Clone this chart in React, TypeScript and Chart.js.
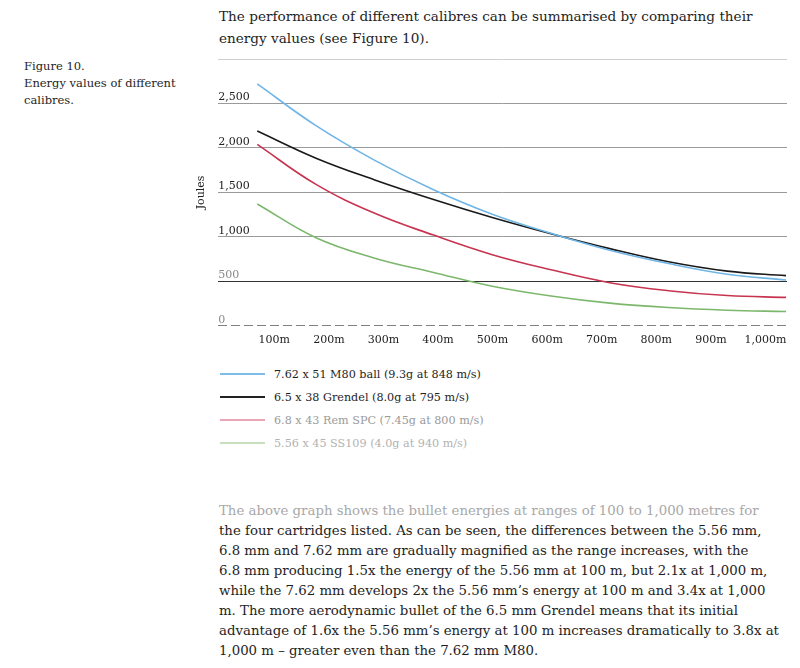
import React, { useEffect, useRef } from 'react';
import { Chart, registerables } from 'chart.js';

Chart.register(...registerables);

// ---- data ----
const DISTANCES = [100, 200, 300, 400, 500, 600, 700, 800, 900, 1000];
const M80_BALL = [2720, 2250, 1860, 1530, 1255, 1040, 850, 700, 580, 515];
const GRENDEL = [2190, 1885, 1640, 1420, 1218, 1035, 868, 720, 615, 564];
const REM_SPC = [2040, 1590, 1265, 1020, 800, 630, 485, 395, 340, 320];
const SS109 = [1370, 990, 760, 600, 445, 335, 255, 205, 175, 160];

const SERIES_NAMES = [
  '7.62 x 51 M80 ball (9.3g at 848 m/s)',
  '6.5 x 38 Grendel (8.0g at 795 m/s)',
  '6.8 x 43 Rem SPC (7.45g at 800 m/s)',
  '5.56 x 45 SS109 (4.0g at 940 m/s)',
];
const SERIES_VALUES = [M80_BALL, GRENDEL, REM_SPC, SS109];
const LINE_COLORS = ['#6fb5e6', '#1a1a1a', '#c73450', '#7cb86c'];
const LEGEND_LINE_COLORS = ['#7fbde9', '#222222', '#e9a7b6', '#c8e0c0'];
const LEGEND_TEXT_COLORS = ['#1e1e1e', '#1e1e1e', '#9a9a9a', '#b2b2b2'];

const Y_TICKS = [0, 500, 1000, 1500, 2000, 2500, 3000];
const Y_TICK_LABELS = ['0', '500', '1,000', '1,500', '2,000', '2,500', ''];
const X_TICK_LABELS = ['100m', '200m', '300m', '400m', '500m', '600m', '700m', '800m', '900m', '1,000m'];

const INTRO_LINES = [
  'The performance of different calibres can be summarised by comparing their',
  'energy values (see Figure 10).',
];
const CAPTION_LINES = ['Figure 10.', 'Energy values of different', 'calibres.'];
const BODY_LINES = [
  'The above graph shows the bullet energies at ranges of 100 to 1,000 metres for',
  'the four cartridges listed. As can be seen, the differences between the 5.56 mm,',
  '6.8 mm and 7.62 mm are gradually magnified as the range increases, with the',
  '6.8 mm producing 1.5x the energy of the 5.56 mm at 100 m, but 2.1x at 1,000 m,',
  'while the 7.62 mm develops 2x the 5.56 mm\u2019s energy at 100 m and 3.4x at 1,000',
  'm. The more aerodynamic bullet of the 6.5 mm Grendel means that its initial',
  'advantage of 1.6x the 5.56 mm\u2019s energy at 100 m increases dramatically to 3.8x at',
  '1,000 m \u2013 greater even than the 7.62 mm M80.',
];

const FONT = "'DejaVu Serif', serif";

function EnergyChart() {
  const ref = useRef<HTMLCanvasElement | null>(null);
  useEffect(() => {
    if (!ref.current) return;
    const chart = new Chart(ref.current, {
      type: 'line',
      data: {
        datasets: SERIES_VALUES.map((vals, i) => ({
          label: SERIES_NAMES[i],
          data: DISTANCES.map((d, j) => ({ x: d, y: vals[j] })),
          borderColor: LINE_COLORS[i],
          borderWidth: 1.6,
          pointRadius: 0,
          fill: false,
          tension: 0.4,
          xAxisID: 'x',
          yAxisID: 'y',
        })),
      },
      options: {
        responsive: false,
        animation: false,
        devicePixelRatio: 1,
        layout: { padding: { left: 15, right: 13, top: 14, bottom: 0 } },
        plugins: { legend: { display: false }, tooltip: { enabled: false } },
        scales: {
          x: { type: 'linear', display: false, min: 33.5, max: 1001.7 },
          x2: {
            type: 'linear',
            position: 'bottom',
            min: -2.75,
            max: 1039.5,
            afterBuildTicks: (scale: any) => {
              scale.ticks = DISTANCES.map((v) => ({ value: v }));
            },
            grid: { display: false, drawTicks: false },
            border: { display: false },
            ticks: {
              autoSkip: false,
              maxRotation: 0,
              padding: 8,
              color: '#222',
              font: { family: FONT, size: 11 },
              callback: (v: any) => {
                const i = DISTANCES.indexOf(Number(v));
                return i >= 0 ? X_TICK_LABELS[i] : '';
              },
            },
          },
          y: {
            type: 'linear',
            position: 'left',
            min: 0,
            max: 3000,
            afterBuildTicks: (scale: any) => {
              scale.ticks = Y_TICKS.map((v) => ({ value: v }));
            },
            border: {
              display: false,
              dash: (ctx: any) => (ctx.tick && ctx.tick.value === 0 ? [9, 4] : []),
            },
            grid: {
              drawTicks: false,
              lineWidth: 1,
              color: (ctx: any) => {
                const v = ctx.tick ? ctx.tick.value : -1;
                if (v === 3000) return '#cfcfcf';
                if (v === 500) return '#333333';
                if (v === 0) return '#808080';
                return '#9a9a9a';
              },
            },
            ticks: {
              mirror: true,
              padding: 0,
              labelOffset: -6,
              color: (ctx: any) => {
                const v = ctx.tick ? ctx.tick.value : 0;
                return v <= 500 ? '#8a8a8a' : '#222';
              },
              font: { family: FONT, size: 11 },
              callback: (v: any) => {
                const i = Y_TICKS.indexOf(Number(v));
                return i >= 0 ? Y_TICK_LABELS[i] : '';
              },
            },
            title: {
              display: true,
              text: 'Joules',
              color: '#222',
              font: { family: FONT, size: 11 },
              padding: { top: 0, bottom: 10 },
            },
          },
        },
      },
    });
    return () => chart.destroy();
  }, []);
  return (
    <canvas
      ref={ref}
      width={620}
      height={310}
      style={{ position: 'absolute', left: 180, top: 45, width: 620, height: 310 }}
    />
  );
}

export default function App() {
  const text = { fontFamily: FONT, whiteSpace: 'nowrap' as const, color: '#1e1e1e' };
  return (
    <div style={{ position: 'absolute', left: 0, top: 0, width: 800, height: 668, background: '#fff', overflow: 'hidden' }}>
      <div style={{ ...text, position: 'absolute', left: 219, top: 6, fontSize: 13.6, lineHeight: '21.6px' }}>
        {INTRO_LINES.map((l, i) => (
          <div key={i}>{l}</div>
        ))}
      </div>
      <div style={{ ...text, position: 'absolute', left: 24, top: 58.3, fontSize: 11.5, lineHeight: '16.7px' }}>
        {CAPTION_LINES.map((l, i) => (
          <div key={i}>{l}</div>
        ))}
      </div>
      <EnergyChart />
      <div style={{ position: 'absolute', left: 220, top: 362.5 }}>
        {SERIES_NAMES.map((n, i) => (
          <div key={i} style={{ height: 23, display: 'flex', alignItems: 'center' }}>
            <div style={{ width: 45, height: 2, background: LEGEND_LINE_COLORS[i], marginRight: 9 }} />
            <span style={{ ...text, fontSize: 11.2, color: LEGEND_TEXT_COLORS[i] }}>{n}</span>
          </div>
        ))}
      </div>
      <div style={{ ...text, position: 'absolute', left: 219, top: 501, fontSize: 13.3, lineHeight: '20px' }}>
        {BODY_LINES.map((l, i) => (
          <div key={i} style={{ color: i === 0 ? '#a8a8a8' : '#1e1e1e' }}>{l}</div>
        ))}
      </div>
    </div>
  );
}
